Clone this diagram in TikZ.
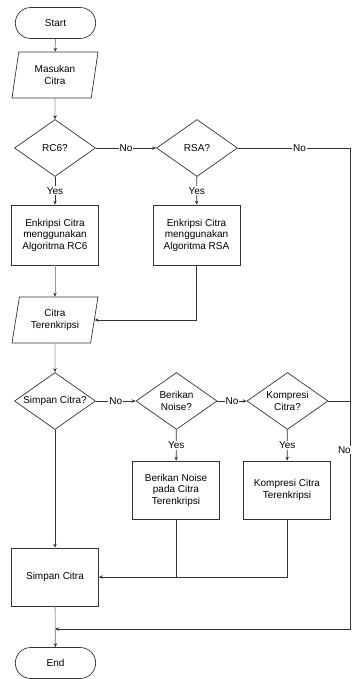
\documentclass[tikz,border=0pt]{standalone}
\usepackage{fontspec}
\setmainfont{Liberation Sans}
\usetikzlibrary{shapes.geometric}
\usetikzlibrary{shapes.misc}
\usetikzlibrary{arrows.meta}
\usetikzlibrary{positioning}

\tikzset{
	every node/.style={font=\fontsize{10}{11.5}\selectfont, align=center},
	terminal/.style={draw=black!80, line width=0.7pt, rounded rectangle, minimum width=87pt, minimum height=31pt},
	io/.style={draw=black!80, line width=0.7pt, trapezium, trapezium left angle=72, trapezium right angle=108, trapezium stretches body, minimum width=86pt, minimum height=46pt, inner sep=1pt},
	decision/.style={draw=black!80, line width=0.7pt, diamond, aspect=1.42, inner sep=0pt, minimum width=81pt, minimum height=57pt},
	process/.style={draw=black!80, line width=0.7pt, rectangle, minimum width=87pt, minimum height=58pt},
	line/.style={draw=black!80, line width=0.7pt},
	arrow/.style={line, -{Stealth[length=4pt, width=3.5pt]}},
	flow/.style={draw=black!40, line width=0.9pt, -{Stealth[length=4pt, width=3.5pt, color=black!80]}},
	branch/.style={fill=white, inner sep=1pt}
}

\begin{document}
\begin{tikzpicture}[x=1pt, y=-1pt]
	\useasboundingbox (0,0) rectangle (352,679);

	%first part
	\node[terminal] (start) at (55.5,23) {Start};
	\node[io] (input) at (55,75) {Masukan\\Citra};
	\node[decision] (rc6) at (55,148) {RC6?};
	\node[decision] (rsa) at (197,148) {RSA?};
	\node[process, minimum height=60pt] (encrc6) at (55,235) {Enkripsi Citra\\menggunakan\\Algoritma RC6};
	\node[process, minimum height=60pt] (encrsa) at (196.5,235) {Enkripsi Citra\\menggunakan\\Algoritma RSA};
	\node[io] (cipher) at (55,320) {Citra\\Terenkripsi};

	%second part
	\node[decision] (save) at (55,401) {Simpan Citra?};
	\node[decision] (noise) at (176.5,401) {Berikan\\Noise?};
	\node[decision] (compress) at (287.5,401) {Kompresi\\Citra?};
	\node[process] (addnoise) at (176,490) {Berikan Noise\\pada Citra\\Terenkripsi};
	\node[process] (docompress) at (287,490) {Kompresi Citra\\Terenkripsi};
	\node[process] (store) at (55,577) {Simpan Citra};
	\node[terminal] (end) at (55.5,663) {End};

	%corners of the long line
	\coordinate (rsaturn) at (350,148);
	\coordinate (bottomturn) at (350,629);
	\coordinate (merge) at (55,629);

	%connectors
	\draw[flow] (start) -- (input);
	\draw[flow] (input) -- (rc6);
	\draw[arrow] (rc6) -- node[branch] {No} (rsa);
	\draw[arrow] (rc6) -- node[branch] {Yes} (encrc6);
	\draw[arrow] (rsa) -- node[branch] {Yes} (encrsa);
	\draw[line] (rsa) -- node[branch, pos=0.55] {No} (rsaturn);
	\draw[arrow] (rsaturn) -- (bottomturn) -- (merge);
	\node[branch, anchor=east] (nolong) at (352,450) {No};
	\draw[flow] (encrc6) -- (cipher);
	\draw[arrow] (encrsa.south) |- (cipher.east);
	\draw[flow] (cipher) -- (save);
	\draw[arrow] (save) -- node[branch] {No} (noise);
	\draw[arrow] (noise) -- node[branch] {No} (compress);
	\draw[arrow] (noise) -- node[branch] {Yes} (addnoise);
	\draw[arrow] (compress) -- node[branch] {Yes} (docompress);
	\draw[line] (compress.east) -- (compress.east -| rsaturn);
	\draw[arrow] (save) -- (store);
	\draw[arrow] (addnoise.south) |- (store.east);
	\draw[line] (docompress.south) |- (addnoise.south |- store.east);
	\draw[flow] (store) -- (end);
\end{tikzpicture}
\end{document}
